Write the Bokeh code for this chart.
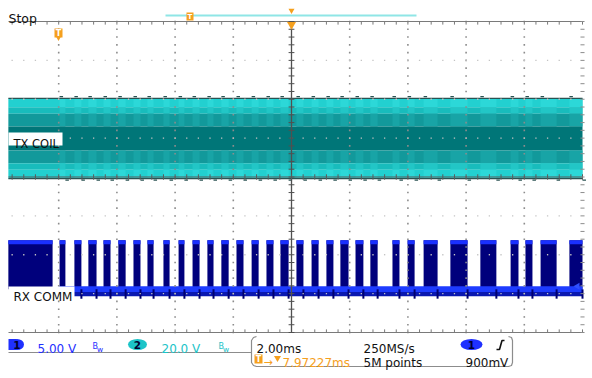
import numpy as np
from bokeh.plotting import figure
from bokeh.models import Range1d
from bokeh.embed import file_html
from bokeh.resources import INLINE
from bokeh.core.properties import value

# ---------------- data ----------------
time_per_div_ms = 2.0
ch1_volts_per_div = 5.0
ch2_volts_per_div = 20.0

# RX COMM (channel 1) pulse edges, ms relative to trigger
rx_rise_ms = [-9.73, -7.97, -7.46, -6.98, -6.46, -5.95, -5.43, -4.95, -4.40, -3.88,
              -3.40, -2.89, -2.41, -1.89, -1.37, -0.86, -0.38, 0.17, 0.69, 1.20,
              1.68, 2.20, 2.71, 3.47, 3.99, 4.54, 5.46, 6.49, 7.53, 8.04,
              8.56, 9.55]
rx_fall_ms = [-8.21, -7.77, -7.22, -6.70, -6.22, -5.70, -5.19, -4.74, -4.19, -3.68,
              -3.16, -2.68, -2.16, -1.65, -1.13, -0.62, -0.10, 0.41, 0.93, 1.44,
              1.96, 2.47, 2.96, 3.71, 4.23, 5.02, 6.05, 7.04, 7.80, 8.28,
              9.11, 10.00]
rx_high_v = 6.3
rx_low_v = 0.0

# TX COIL (channel 2) envelope
tx_amplitude_v = 20.6
trace_start_ms = -9.73
trace_end_ms = 10.0

# status texts
ch1_scale_text = "5.00 V"
ch2_scale_text = "20.0 V"
timebase_text = "2.00ms"
sample_rate_text = "250MS/s"
trigger_pos_text = "7.97227ms"
record_text = "5M points"
trigger_level_text = "900mV"

# ---------------- layout helpers ----------------
W, H = 592, 378
X0, SX = 291.0, 58.2 / time_per_div_ms      # px of t=0, px per ms
Y0, SY = 176.5, 38.875                        # px of centre, px per division
CH1_GND_DIV = -2.89
CH2_GND_DIV = 0.99

def tx(px):
    return (px - X0) / SX

def ty(py):
    return (Y0 - py) / SY

def ch1(v):
    return CH1_GND_DIV + v / ch1_volts_per_div

def ch2(v):
    return CH2_GND_DIV + v / ch2_volts_per_div

FONT = value("DejaVu Sans")

p = figure(width=W, height=H, x_range=Range1d(tx(0), tx(W)), y_range=Range1d(ty(H), ty(0)),
           x_axis_type=None, y_axis_type=None, toolbar_location=None, min_border=0,
           output_backend="svg", background_fill_color="white", border_fill_color="white")
p.outline_line_color = None
p.grid.visible = False

rise = np.array(rx_rise_ms)
fall = np.array(rx_fall_ms)

# ---------------- TX COIL ----------------
A = tx_amplitude_v
bands = [  # (inner fraction, outer fraction, base colour, stripe colour)
    (0.78, 1.00, "#22d0d0", "#2cd8d8"),
    (0.62, 0.78, "#18bcbc", "#22c6c6"),
    (0.30, 0.62, "#12999b", "#18a4a6"),
    (-0.30, 0.30, "#007678", "#007678"),
    (-0.62, -0.30, "#12999b", "#18a4a6"),
    (-0.78, -0.62, "#18bcbc", "#22c6c6"),
    (-1.00, -0.78, "#22d0d0", "#2cd8d8"),
]
for lo, hi, base, stripe in bands:
    p.quad(left=[trace_start_ms], right=[trace_end_ms], bottom=[ch2(lo * A)], top=[ch2(hi * A)],
           fill_color=base, line_color=None)
    if stripe != base:
        p.quad(left=rise[1:], right=fall[1:], bottom=ch2(lo * A), top=ch2(hi * A),
               fill_color=stripe, line_color=None)
for sgn in (1, -1):
    p.segment(x0=[trace_start_ms], x1=[trace_end_ms], y0=[ch2(sgn * A)], y1=[ch2(sgn * A)],
              line_color="#2a5252", line_width=1.3)
# small ripples on the envelope edge at each burst
p.segment(x0=rise[1:], x1=rise[1:] + 0.12, y0=ch2(A) + 0.05, y1=ch2(A) + 0.05,
          line_color="#2a5252", line_width=1.2)
p.segment(x0=fall[1:], x1=fall[1:] + 0.12, y0=ch2(-A) - 0.04, y1=ch2(-A) - 0.04,
          line_color="#2a5252", line_width=1.2)

# ---------------- RX COMM ----------------
p.quad(left=rise, right=fall, bottom=ch1(rx_low_v), top=ch1(rx_high_v),
       fill_color="#00007c", line_color=None)
p.quad(left=rise, right=fall, top=ch1(rx_high_v), bottom=ch1(rx_high_v) - 0.1,
       fill_color="#1a30ff", line_color=None)
p.quad(left=[rise[1] - 0.05], right=[trace_end_ms], top=[ch1(rx_low_v) + 0.08],
       bottom=[ch1(rx_low_v) - 0.07], fill_color="#1e3cff", line_color=None)
p.quad(left=[rise[1] - 0.05], right=[trace_end_ms], top=[ch1(rx_low_v) - 0.07],
       bottom=[ch1(rx_low_v) - 0.18], fill_color="#0a18b0", line_color=None)
p.segment(x0=fall, x1=fall, y0=ch1(rx_low_v), y1=ch1(rx_low_v) - 0.24,
          line_color="#000070", line_width=2)
p.scatter(x=[tx(577)], y=[ch1(rx_low_v) + 0.08], marker="triangle", angle=np.pi / 2,
          size=7, fill_color="#3050ff", line_color=None)

# ---------------- graticule ----------------
GRID = "#8c8c8c"
gx, gy = [], []
for k in range(-4, 5):
    if k == 0:
        continue
    ys = np.arange(-4, 4.001, 0.2)
    gx += [k * time_per_div_ms] * len(ys)
    gy += list(ys)
p.scatter(x=gx, y=gy, marker="square", size=1.6, fill_color=GRID, line_color=None)
rx_, ry_ = [], []
for j in range(-3, 4):
    if j == 0:
        continue
    xs = np.arange(-10 + 0.4, 10, 0.4)
    rx_ += list(xs)
    ry_ += [j] * len(xs)
p.scatter(x=rx_, y=ry_, marker="square", size=1.3, fill_color="#c4c4c4", line_color=None)

# top / bottom border lines with ticks
xt = np.arange(-10 + 0.4, 10.001, 0.4)
for yb, d in ((4, -1), (-4, 1)):
    p.segment(x0=[tx(8)], x1=[10], y0=[yb], y1=[yb], line_color="#7a7a7a", line_width=1.2)
    p.segment(x0=xt, x1=xt, y0=yb, y1=yb + d * 0.08, line_color="#7a7a7a", line_width=1)
# centre cross-hair
p.segment(x0=[0], x1=[0], y0=[-4], y1=[4], line_color="#505050", line_width=1.3)
yt = np.arange(-4, 4.001, 0.2)
p.segment(x0=-0.1, x1=0.1, y0=yt, y1=yt, line_color="#505050", line_width=1)
p.segment(x0=[tx(8)], x1=[10], y0=[0], y1=[0], line_color="#5a5a5a", line_width=1)
p.segment(x0=xt, x1=xt, y0=-0.07, y1=0.07, line_color="#5a5a5a", line_width=1)
# right edge ticks
p.segment(x0=10 - 0.07, x1=10 + 0.07, y0=yt, y1=yt, line_color=GRID, line_width=1)

# ---------------- channel labels ----------------
p.quad(left=[tx(8)], right=[tx(62)], top=[ty(132)], bottom=[ty(145)], fill_color="white", line_color=None)
p.text(x=[tx(13)], y=[ty(143.5)], text=["TX COIL"], text_font=FONT, text_font_size="11.5px",
       text_color="#101010", text_baseline="alphabetic")
p.quad(left=[tx(8)], right=[tx(74)], top=[ty(286)], bottom=[ty(299)], fill_color="white", line_color=None)
p.text(x=[tx(13)], y=[ty(296.5)], text=["RX COMM"], text_font=FONT, text_font_size="12px",
       text_color="#101010", text_baseline="alphabetic")

# ---------------- header ----------------
ORANGE = "#f5a01e"
p.text(x=[tx(8)], y=[ty(18)], text=["Stop"], text_font=FONT, text_font_size="12.5px",
       text_color="#111111", text_baseline="alphabetic")
p.segment(x0=[tx(165)], x1=[tx(416)], y0=[ty(15)], y1=[ty(15)], line_color="#8fe6e6", line_width=2)
p.quad(left=[tx(186)], right=[tx(193)], top=[ty(12)], bottom=[ty(20)], fill_color=ORANGE, line_color=None)
p.text(x=[tx(189.5)], y=[ty(16)], text=["T"], text_font=FONT, text_font_size="7px",
       text_color="white", text_align="center", text_baseline="middle", text_font_style="bold")
p.scatter(x=[0], y=[ty(10)], marker="inverted_triangle", size=6, fill_color=ORANGE, line_color=None)
p.scatter(x=[0], y=[ty(24)], marker="inverted_triangle", size=9, fill_color=ORANGE, line_color=None)
p.quad(left=[tx(54)], right=[tx(62)], top=[ty(28)], bottom=[ty(37)], fill_color=ORANGE, line_color=None)
p.scatter(x=[tx(58)], y=[ty(37.5)], marker="inverted_triangle", size=5, fill_color=ORANGE, line_color=None)
p.text(x=[tx(58)], y=[ty(32.5)], text=["T"], text_font=FONT, text_font_size="8px",
       text_color="white", text_align="center", text_baseline="middle", text_font_style="bold")

# ---------------- status bar ----------------
BORDER = "#8c8c8c"
p.line(x=[tx(v) for v in (8, 251)], y=[ty(352)] * 2, line_color=BORDER, line_width=1.2)
bx = [256, 253, 251, 251, 253, 256, 508, 511, 512, 512, 511, 508]
by = [336, 337, 340, 362, 365, 366, 366, 365, 362, 340, 337, 336]
p.line(x=[tx(v) for v in bx], y=[ty(v) for v in by], line_color=BORDER, line_width=1.2)

BLUE = "#1f30ff"
CYAN = "#1cc4c8"

def txt(px, py, s, color, size="12px", align="left", bold=False):
    p.text(x=[tx(px)], y=[ty(py)], text=[s], text_font=FONT, text_font_size=size, text_color=color,
           text_align=align, text_baseline="alphabetic", text_font_style="bold" if bold else "normal")

def badge(cx, cy, w, h, color, label):
    p.ellipse(x=[tx(cx)], y=[ty(cy)], width=[w / SX], height=[h / SY], fill_color=color, line_color=None)
    p.text(x=[tx(cx)], y=[ty(cy)], text=[label], text_font=FONT, text_font_size="10.5px",
           text_color="#000030", text_align="center", text_baseline="middle", text_font_style="bold")

def bw(px, color):
    txt(px, 345.5, "B", color, size="8px")
    txt(px + 4.5, 349, "w", color, size="7.5px")

p.quad(left=[tx(8)], right=[tx(16)], top=[ty(338.5)], bottom=[ty(349.5)], fill_color=BLUE, line_color=None)
badge(16.5, 344, 14, 11, BLUE, "1")
txt(37, 348, ch1_scale_text, BLUE)
bw(92, BLUE)
badge(137, 344, 19, 11, CYAN, "2")
txt(161, 348, ch2_scale_text, CYAN)
bw(218, CYAN)

txt(256, 348, timebase_text, "#111111")
txt(363, 348, sample_rate_text, "#111111")
badge(471, 344, 22, 11, BLUE, "1")
ex = [496, 499, 501.5, 504]
ey = [349, 349, 340, 340]
p.line(x=[tx(v) for v in ex], y=[ty(v) for v in ey], line_color="#111111", line_width=1.6)

p.quad(left=[tx(254)], right=[tx(262)], top=[ty(354)], bottom=[ty(363)], fill_color=ORANGE, line_color=None)
p.text(x=[tx(258)], y=[ty(358.5)], text=["T"], text_font=FONT, text_font_size="8px",
       text_color="white", text_align="center", text_baseline="middle", text_font_style="bold")
txt(263, 362, "\u2192", ORANGE, size="11px")
p.scatter(x=[tx(277)], y=[ty(357.5)], marker="inverted_triangle", size=7, fill_color=ORANGE, line_color=None)
txt(282, 362, trigger_pos_text, ORANGE)
txt(363, 362, record_text, "#111111")
txt(465, 362, trigger_level_text, "#111111")

open("out.html", "w").write(file_html(p, INLINE))
